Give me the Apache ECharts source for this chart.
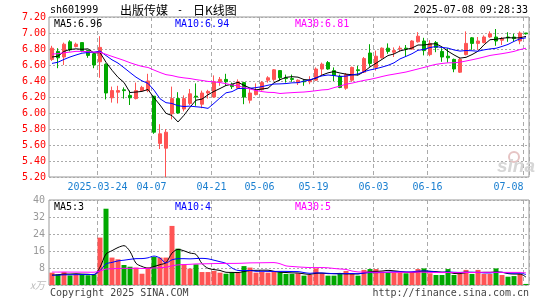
<!DOCTYPE html>
<html><head><meta charset="utf-8">
<script src="https://cdn.jsdelivr.net/npm/echarts@6/dist/echarts.min.js"></script>
<style>html,body{margin:0;padding:0;background:#fff}#c{width:545px;height:300px}</style>
</head><body><div id="c"></div>
<script>
const dates = [
'2025-03-12','2025-03-13','2025-03-14','2025-03-17','2025-03-18','2025-03-19','2025-03-20','2025-03-21','2025-03-24','2025-03-25','2025-03-26','2025-03-27','2025-03-28','2025-03-31',
'2025-04-01','2025-04-02','2025-04-03','2025-04-07','2025-04-08','2025-04-09','2025-04-10','2025-04-11','2025-04-14','2025-04-15','2025-04-16','2025-04-17','2025-04-18','2025-04-21','2025-04-22','2025-04-23','2025-04-24','2025-04-25','2025-04-28','2025-04-29','2025-04-30',
'2025-05-06','2025-05-07','2025-05-08','2025-05-09','2025-05-12','2025-05-13','2025-05-14','2025-05-15','2025-05-16','2025-05-19','2025-05-20','2025-05-21','2025-05-22','2025-05-23','2025-05-26','2025-05-27','2025-05-28','2025-05-29','2025-05-30',
'2025-06-03','2025-06-04','2025-06-05','2025-06-06','2025-06-09','2025-06-10','2025-06-11','2025-06-12','2025-06-13','2025-06-16','2025-06-17','2025-06-18','2025-06-19','2025-06-20','2025-06-23','2025-06-24','2025-06-25','2025-06-26','2025-06-27','2025-06-30',
'2025-07-01','2025-07-02','2025-07-03','2025-07-04','2025-07-07','2025-07-08'];

const opens = [6.67,6.77,6.70,6.89,6.83,6.88,6.78,6.74,6.64,6.61, 6.19,6.26,6.29,6.22,6.18,6.28,6.28,6.21,5.62,5.56, 5.99,6.18,6.05,6.12,6.21,6.11,6.25,6.20,6.39,6.42, 6.36,6.31,6.38,6.16,6.23,6.29,6.41,6.42,6.53,6.44, 6.43,6.38,6.40,6.39,6.41,6.55,6.63,6.53,6.46,6.31, 6.41,6.54,6.51,6.75,6.57,6.69,6.81,6.76,6.80,6.81, 6.80,6.89,6.90,6.73,6.88,6.77,6.71,6.67,6.51,6.73, 6.94,6.87,6.88,6.95,6.95,6.91,6.95,6.95,6.90,7.00];
const closes = [6.81,6.69,6.86,6.79,6.86,6.78,6.72,6.60,6.82,6.25, 6.28,6.28,6.28,6.19,6.28,6.32,6.40,5.76,5.74,5.76, 6.18,6.00,6.18,6.24,6.20,6.25,6.27,6.39,6.42,6.39, 6.33,6.39,6.20,6.25,6.28,6.38,6.44,6.54,6.44,6.43, 6.42,6.41,6.39,6.41,6.55,6.61,6.55,6.47,6.32,6.48, 6.57,6.53,6.68,6.62,6.71,6.81,6.77,6.78,6.81,6.80, 6.90,6.96,6.78,6.87,6.82,6.70,6.69,6.55,6.67,6.87, 6.87,6.90,6.95,6.99,6.90,6.93,6.94,6.93,7.00,6.99];
const highs = [6.84,6.81,6.88,6.91,6.88,6.88,6.79,6.76,6.96,6.62, 6.33,6.34,6.32,6.28,6.38,6.34,6.49,6.21,5.86,5.80, 6.33,6.26,6.22,6.30,6.37,6.28,6.29,6.47,6.45,6.49, 6.38,6.42,6.39,6.30,6.37,6.40,6.46,6.55,6.53,6.48, 6.48,6.42,6.42,6.46,6.57,6.63,6.65,6.57,6.48,6.50, 6.58,6.59,6.70,6.86,6.78,6.82,6.87,6.82,6.84,6.85, 6.91,7.01,6.94,6.91,6.90,6.81,6.81,6.68,6.69,7.02, 6.95,6.95,6.97,7.02,7.05,6.95,7.01,6.99,7.02,7.00];
const lows = [6.65,6.56,6.60,6.77,6.82,6.76,6.69,6.56,6.44,6.17, 6.13,6.12,6.18,6.10,6.17,6.27,6.26,5.74,5.55,5.20, 5.92,5.99,6.02,6.10,6.09,6.06,6.18,6.19,6.34,6.34, 6.30,6.30,6.11,6.12,6.22,6.28,6.38,6.40,6.40,6.38, 6.39,6.35,6.34,6.36,6.40,6.47,6.54,6.40,6.31,6.29, 6.39,6.47,6.50,6.58,6.53,6.68,6.74,6.70,6.77,6.70, 6.79,6.88,6.72,6.71,6.76,6.64,6.63,6.51,6.50,6.72, 6.79,6.79,6.87,6.94,6.84,6.85,6.89,6.89,6.86,6.98];
const volumes = [5.8,5.0,6.1,4.5,5.0,5.0,4.6,5.0,22.3,35.9, 12.9,12.1,9.4,8.6,8.2,5.3,8.2,13.2,12.9,12.9, 27.8,17.1,9.7,7.7,9.7,6.1,6.1,6.6,5.8,5.3, 5.8,5.8,8.9,8.2,5.8,6.1,5.8,6.3,6.0,5.2, 5.2,5.5,4.4,4.7,7.8,5.5,4.4,4.4,5.2,6.6, 5.5,4.4,7.1,7.5,7.5,6.3,6.0,6.0,6.0,5.5, 6.0,7.5,7.8,5.5,4.7,4.7,7.5,4.7,5.2,7.1, 5.2,7.1,5.2,5.2,7.8,4.7,3.9,4.2,5.2,0.5];
// sessions before the visible window (needed for the moving averages at the left edge)
const priorCloses = [6.50,6.55,6.52,6.58, 6.79,6.83,6.80,6.85, 7.00,7.07,7.03,7.04, 7.05,7.02,6.97, 6.80,6.73,6.65,6.57,6.52, 6.54,6.51,6.49,6.61,6.55,6.64,6.56,6.67,6.82];
const priorVolumes = [5.5,5.0,5.8,5.2,5.6,5.1,5.4,5.3, 8.5,9.2,7.6,7.0,8.8,7.4,8.1,6.9,7.5,8.2,7.3,7.5, 4.4,4.6,4.3,4.5,4.8,4.2,4.4,4.6,4.3];
const dateTicks = ['2025-03-24','2025-04-07','2025-04-21','2025-05-06','2025-05-19','2025-06-03','2025-06-16','2025-07-08'];
const priceRange = [5.2, 7.2, 0.2];
const volumeRange = [0, 40, 8];
const maPeriods = [5, 10, 30];
const maColors = ['#000000', '#0000ff', '#ff00ff'];

function movingAverage(prior, vals, n) {
  const all = prior.concat(vals), off = prior.length;
  return vals.map((_, i) => {
    const end = off + i, start = end - n + 1;
    if (start < 0) return '-';
    let s = 0; for (let k = start; k <= end; k++) s += all[k];
    return +(s / n).toFixed(4);
  });
}

const MONO = '"DejaVu Sans Mono", monospace';
const UP = '#ff5454', DOWN = '#00a800';
const DATECOL = '#1a7fd0';
const tickSet = new Set(dateTicks.map(d => dates.indexOf(d)));
const firstTick = dates.indexOf(dateTicks[0]);
const lastTick = dates.indexOf(dateTicks[dateTicks.length - 1]);

const priceMA = maPeriods.map(n => movingAverage(priorCloses, closes, n));
const volMA = maPeriods.map(n => movingAverage(priorVolumes, volumes, n));

const candleData = dates.map((d, i) => [opens[i], closes[i], lows[i], highs[i]]);
const volData = volumes.map((v, i) => ({ value: v, itemStyle: { color: closes[i] >= opens[i] ? UP : DOWN } }));

const chart = echarts.init(document.getElementById('c'), null, { renderer: 'canvas' });

const gridLeft = 49, gridW = 480;
const splitV = { show: true, interval: (i) => tickSet.has(i), lineStyle: { color: '#aaaaaa', type: [4, 3], width: 1 } };

const legendText = [];
maPeriods.forEach((n, k) => {
  const xs = [54, 175, 295];
  const lastP = priceMA[k][priceMA[k].length - 1];
  const lastV = volMA[k][volMA[k].length - 1];
  legendText.push({ type: 'text', x: xs[k], y: 24, silent: true, z: 100,
    style: { text: 'MA' + n + ':' + lastP.toFixed(2), font: '10px ' + MONO, fill: maColors[k], verticalAlign: 'middle', align: 'left' } });
  legendText.push({ type: 'text', x: xs[k], y: 207, silent: true, z: 100,
    style: { text: 'MA' + n + ':' + Math.floor(lastV), font: '10px ' + MONO, fill: maColors[k], verticalAlign: 'middle', align: 'left' } });
});

const option = {
  animation: false,
  backgroundColor: '#ffffff',
  grid: [
    { left: gridLeft, top: 17, width: gridW, height: 160, show: true, borderColor: '#999999', borderWidth: 1 },
    { left: gridLeft, top: 200, width: gridW, height: 85, show: true, borderColor: '#999999', borderWidth: 1 }
  ],
  xAxis: [
    { type: 'category', data: dates, gridIndex: 0, boundaryGap: true,
      axisLine: { show: false }, axisTick: { show: false },
      axisLabel: { interval: (i) => tickSet.has(i), margin: 5, fontFamily: MONO, fontSize: 10, color: DATECOL,
        formatter: (v, i) => i === lastTick ? '{b|' + v.slice(5) + '}' : '{a|' + (i === firstTick ? v : v.slice(5)) + '}',
        rich: { a: { padding: [0, 5, 0, 0], fontFamily: MONO, fontSize: 10, color: DATECOL },
                b: { padding: [0, 35, 0, 0], fontFamily: MONO, fontSize: 10, color: DATECOL } } },
      splitLine: splitV },
    { type: 'category', data: dates, gridIndex: 1, boundaryGap: true,
      axisLine: { show: false }, axisTick: { show: false }, axisLabel: { show: false },
      splitLine: splitV }
  ],
  yAxis: [
    { type: 'value', gridIndex: 0, min: priceRange[0], max: priceRange[1], interval: priceRange[2],
      axisLine: { show: false }, axisTick: { show: false },
      axisLabel: { color: '#ff0000', fontFamily: MONO, fontSize: 10, margin: 3, formatter: v => v.toFixed(2) },
      splitLine: { lineStyle: { color: '#aaaaaa', type: [2, 2], width: 1 } } },
    { type: 'value', gridIndex: 1, min: volumeRange[0], max: volumeRange[1], interval: volumeRange[2],
      axisLine: { show: false }, axisTick: { show: false },
      axisLabel: { color: '#999999', fontFamily: MONO, fontSize: 10, margin: 4,
        formatter: v => v === 0 ? '{u|x万}' : String(v),
        rich: { u: { color: '#bbbbbb', fontSize: 10, fontFamily: '"Noto Sans CJK SC", sans-serif', fontStyle: 'italic' } } },
      splitLine: { lineStyle: { color: '#aaaaaa', type: [2, 2], width: 1 } } }
  ],
  series: [
    { type: 'candlestick', xAxisIndex: 0, yAxisIndex: 0, data: candleData, barWidth: 4, z: 2,
      itemStyle: { color: UP, color0: DOWN, borderColor: UP, borderColor0: DOWN, borderWidth: 1 } },
    ...maPeriods.map((n, k) => ({ type: 'line', xAxisIndex: 0, yAxisIndex: 0, data: priceMA[k], showSymbol: false, symbol: 'none', z: 5,
      lineStyle: { color: maColors[k], width: 1 } })),
    { type: 'bar', xAxisIndex: 1, yAxisIndex: 1, data: volData, barWidth: 5, z: 2 },
    ...maPeriods.map((n, k) => ({ type: 'line', xAxisIndex: 1, yAxisIndex: 1, data: volMA[k], showSymbol: false, symbol: 'none', z: 5, smooth: 0.3,
      lineStyle: { color: maColors[k], width: 1 } }))
  ],
  graphic: [
    { type: 'text', x: 50, y: 10, style: { text: 'sh601999', font: '10px ' + MONO, fill: '#000', verticalAlign: 'middle' } },
    { type: 'text', x: 120, y: 10, style: { text: '出版传媒', font: '12px "Noto Sans CJK SC"', fill: '#000', verticalAlign: 'middle' } },
    { type: 'text', x: 177, y: 10, style: { text: '-', font: '10px ' + MONO, fill: '#000', verticalAlign: 'middle' } },
    { type: 'text', x: 193, y: 10, style: { text: '日K线图', font: '12px "Noto Sans CJK SC"', fill: '#000', verticalAlign: 'middle' } },
    { type: 'text', x: 528, y: 10, style: { text: '2025-07-08 09:28:33', font: '10px ' + MONO, fill: '#000', verticalAlign: 'middle', align: 'right' } },
    { type: 'text', x: 50, y: 293, style: { text: 'Copyright 2025 SINA.COM', font: '10px ' + MONO, fill: '#444', verticalAlign: 'middle' } },
    { type: 'text', x: 529, y: 293, style: { text: 'http://finance.sina.com.cn', font: '10px ' + MONO, fill: '#444', verticalAlign: 'middle', align: 'right' } },
    { type: 'circle', shape: { cx: 514, cy: 157, r: 5 }, style: { fill: 'none', stroke: '#e6c4c4', lineWidth: 2 }, z: 1 },
    { type: 'text', x: 497, y: 167, z: 1, style: { text: 'sina', font: 'italic bold 19px "Liberation Sans"', fill: '#d6d6d6', verticalAlign: 'middle' } },
    ...legendText
  ]
};
chart.setOption(option);
</script>
</body></html>
